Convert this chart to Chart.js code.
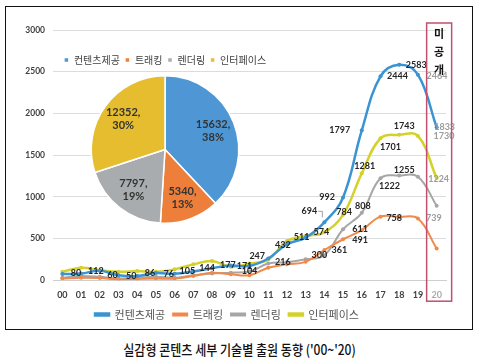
<!DOCTYPE html>
<html>
<head>
<meta charset="utf-8">
<script src="https://cdn.jsdelivr.net/npm/chart.js@4/dist/chart.umd.min.js"></script>
<style>
  body { margin: 0; background: #fff; width: 479px; height: 364px; position: relative; overflow: hidden; }
  #frame { position: absolute; left: 5px; top: 6px; width: 466px; height: 322px; border: 1.5px solid #111; }
  #lineWrap { position: absolute; left: 0; top: 0; width: 479px; height: 330px; }
  #pieWrap { position: absolute; left: 55px; top: 50px; width: 220px; height: 180px; }
  #title { position: absolute; left: 0; top: 339px; width: 479px; text-align: center; font: 500 14px 'Noto Sans CJK KR', sans-serif; color: #111; transform: scaleX(0.86); }
</style>
</head>
<body>
<div id="frame"></div>
<div id="lineWrap"><canvas id="lineChart"></canvas></div>
<div id="pieWrap"><canvas id="pieChart"></canvas></div>
<div id="title">실감형 콘텐츠 세부 기술별 출원 동향 ('00~'20)</div>
<script>
// categories and series
const years = ['00','01','02','03','04','05','06','07','08','09','10','11','12','13','14','15','16','17','18','19','20'];
const contents  = [75, 80, 112, 60, 50, 86, 76, 105, 144, 177, 171, 260, 432, 511, 694, 992, 1797, 2444, 2583, 2464, 1833];
const tracking  = [20, 30, 25, 10, 15, 20, 20, 50, 90, 70, 60, 150, 190, 220, 361, 491, 600, 762, 758, 739, 380];
const rendering = [30, 50, 40, 20, 30, 40, 30, 60, 80, 90, 104, 200, 216, 250, 300, 611, 808, 1222, 1255, 1240, 893];
const iface     = [100, 150, 120, 100, 110, 100, 130, 190, 230, 160, 200, 247, 470, 530, 574, 784, 1281, 1701, 1743, 1730, 1224];

const seriesNames = ['컨텐츠제공', '트래킹', '렌더링', '인터페이스'];
const pieTotals = [15632, 5340, 7797, 12352];
const notPublished = ['미', '공', '개'];

const lineColors = ['#3a93d2', '#ef8a4a', '#a6a6a6', '#d4d22a'];
const pieColors = ['#4f97d4', '#ee7f3b', '#a8acae', '#e5bd2f'];

// which points get a value label, and where it sits relative to the point
const labelSpots = [
  // [dataset, index, dx, dy, grey]
  [0, 1, -5, 0], [0, 2, -4, 0], [0, 3, -6, 0], [0, 4, -6, 0], [0, 5, -6, 0],
  [0, 6, -6, 0], [0, 7, -6, 0], [0, 8, -5, 0], [0, 9, -3, 0], [0, 10, -5, 0],
  [0, 12, -4, 1], [0, 13, -4, 0], [0, 14, -15, -11], [0, 15, -16, 0], [0, 16, -22, 0],
  [0, 17, 17, 0], [0, 18, 17, 0], [0, 19, 19, 1, true], [0, 20, 8, 0, true],
  [3, 11, -11, -4], [3, 14, -3, 0], [3, 15, 1, -3], [3, 16, 3, -7], [3, 17, 10, 9],
  [3, 18, 5, -9], [3, 19, 26, 0, true], [3, 20, 2, 1, true],
  [2, 10, 0, 0], [2, 12, -4, 0], [2, 14, -5, 0], [2, 15, 17, 0], [2, 16, 1, -7],
  [2, 17, 9, 8], [2, 18, 5, -5],
  [1, 14, 15, 0], [1, 15, 17, 1], [1, 18, -5, 1], [1, 19, 16, 0, true]
];

const valueLabels = {
  id: 'valueLabels',
  afterDatasetsDraw(chart) {
    const ctx = chart.ctx;
    ctx.save();
    ctx.font = 'bold 9px Lato';
    ctx.textAlign = 'center';
    ctx.textBaseline = 'middle';
    labelSpots.forEach(s => {
      const pt = chart.getDatasetMeta(s[0]).data[s[1]];
      const v = chart.data.datasets[s[0]].data[s[1]];
      ctx.fillStyle = s[4] ? '#9c9c9c' : '#262626';
      const x = pt.x + s[2], y = pt.y + s[3];
      ctx.fillText(String(v), x, y);
      if (s[0] === 0 && s[1] === 14) {
        // small leader line
        ctx.strokeStyle = '#888';
        ctx.lineWidth = 0.8;
        ctx.beginPath();
        ctx.moveTo(x + 9, y);
        ctx.lineTo(x + 13, y);
        ctx.lineTo(x + 13, y + 6);
        ctx.stroke();
      }
    });
    ctx.restore();
  }
};

const unpublishedBox = {
  id: 'unpublishedBox',
  afterDraw(chart) {
    const ctx = chart.ctx;
    const xs = chart.scales.x;
    const area = chart.chartArea;
    const x = xs.getPixelForValue(years.length - 1);
    ctx.save();
    ctx.strokeStyle = '#c0506e';
    ctx.lineWidth = 1.5;
    ctx.strokeRect(x - 10, area.top - 7, 25, area.bottom - area.top + 28);
    ctx.fillStyle = '#111';
    ctx.font = 'bold 11px "Noto Sans CJK KR"';
    ctx.textAlign = 'center';
    ctx.textBaseline = 'middle';
    notPublished.forEach((c, i) => ctx.fillText(c, x + 2.5, area.top + 4 + i * 18));
    ctx.restore();
  }
};

new Chart(document.getElementById('lineChart'), {
  type: 'line',
  data: {
    labels: years,
    datasets: [contents, tracking, rendering, iface].map((d, i) => ({
      label: seriesNames[i],
      data: d,
      borderColor: lineColors[i],
      backgroundColor: lineColors[i],
      borderWidth: i === 0 || i === 3 ? 2.5 : 2,
      pointRadius: 2,
      pointBorderWidth: 0,
      tension: 0.4,
      fill: false
    }))
  },
  options: {
    responsive: true,
    maintainAspectRatio: false,
    animation: false,
    layout: { padding: { left: 8, right: 33, top: 30, bottom: 0 } },
    plugins: {
      legend: {
        position: 'bottom',
        labels: { boxWidth: 14, boxHeight: 2, padding: 8, color: '#555', font: { family: "'Noto Sans CJK KR'", size: 11 } }
      },
      tooltip: { enabled: false }
    },
    scales: {
      y: {
        min: 0, max: 3000,
        ticks: { stepSize: 500, color: '#404040', font: { family: 'Lato', weight: 'bold', size: 8.5 }, padding: 8, callback: v => String(v) },
        grid: { color: '#dcdcdc', drawTicks: false },
        border: { display: false },
        afterFit(scale) { scale.width = 45; }
      },
      x: {
        offset: true,
        grid: { display: false },
        border: { color: '#cfcfcf' },
        ticks: {
          autoSkip: false, maxRotation: 0, padding: 1,
          color: c => c.index === years.length - 1 ? '#aaa' : '#404040',
          font: { family: 'Lato', weight: 'bold', size: 9 }
        }
      }
    }
  },
  plugins: [valueLabels, unpublishedBox]
});

const pieLabelsPlugin = {
  id: 'pieLabels',
  afterDatasetsDraw(chart) {
    const ctx = chart.ctx;
    const total = pieTotals.reduce((a, b) => a + b, 0);
    ctx.save();
    ctx.font = 'bold 11px Lato';
    ctx.fillStyle = '#333';
    ctx.textAlign = 'center';
    ctx.textBaseline = 'middle';
    chart.getDatasetMeta(0).data.forEach((arc, i) => {
      const mid = (arc.startAngle + arc.endAngle) / 2;
      const r = arc.outerRadius * 0.7;
      const x = arc.x + Math.cos(mid) * r;
      const y = arc.y + Math.sin(mid) * r;
      ctx.fillText(pieTotals[i] + ',', x, y - 6.5);
      ctx.fillText(Math.round(pieTotals[i] / total * 100) + '%', x, y + 6.5);
    });
    ctx.restore();
  }
};

new Chart(document.getElementById('pieChart'), {
  type: 'pie',
  data: {
    labels: seriesNames,
    datasets: [{ data: pieTotals, backgroundColor: pieColors, borderColor: '#fff', borderWidth: 1.5 }]
  },
  options: {
    responsive: true,
    maintainAspectRatio: false,
    animation: false,
    layout: { padding: { bottom: 6 } },
    plugins: {
      legend: {
        position: 'top',
        labels: { boxWidth: 5, boxHeight: 5, padding: 5, color: '#404040', font: { family: "'Noto Sans CJK KR'", size: 10 } }
      },
      tooltip: { enabled: false }
    }
  },
  plugins: [pieLabelsPlugin]
});
</script>
</body>
</html>
